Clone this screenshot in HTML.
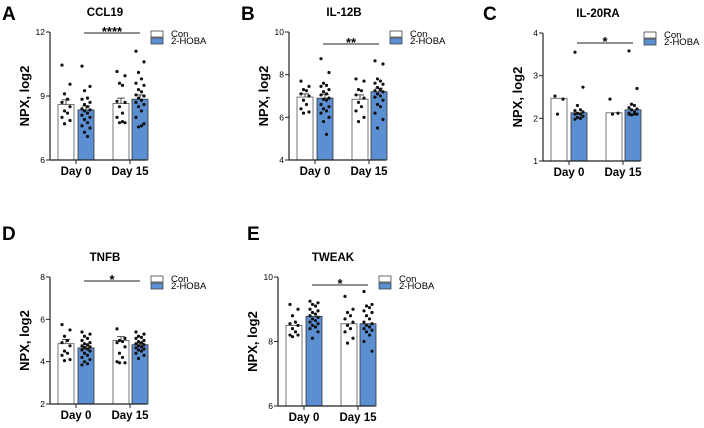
<!DOCTYPE html>
<html><head><meta charset="utf-8">
<style>
html,body{margin:0;padding:0;background:#fff;}
svg{display:block;font-family:"Liberation Sans",sans-serif;}
</style></head>
<body>
<svg id="fig" width="704" height="428" viewBox="0 0 704 428" xmlns="http://www.w3.org/2000/svg"></svg>
<script>
// ---- data ----
const categories = ["Day 0", "Day 15"];
const groups = ["Con", "2-HOBA"];
const titles = ["CCL19", "IL-12B", "IL-20RA", "TNFB", "TWEAK"];
const letters = ["A", "B", "C", "D", "E"];
const sigLabels = ["****", "**", "*", "*", "*"];
const yMinVals = [6, 4, 1, 2, 6];
const yMaxVals = [12, 10, 4, 8, 10];
const tickA = [6, 9, 12];
const tickB = [4, 6, 8, 10];
const tickC = [1, 2, 3, 4];
const tickD = [2, 4, 6, 8];
const tickE = [6, 8, 10];
// means: [Con d0, HOBA d0, Con d15, HOBA d15]
const meanA = [8.6, 8.35, 8.65, 8.85];
const meanB = [6.95, 6.9, 6.85, 7.2];
const meanC = [2.47, 2.13, 2.13, 2.2];
const meanD = [4.85, 4.65, 5.0, 4.8];
const meanE = [8.5, 8.78, 8.55, 8.55];
const semA = [0.22, 0.18, 0.25, 0.2];
const semB = [0.15, 0.18, 0.2, 0.17];
const semC = [0, 0, 0, 0];
const semD = [0.2, 0.08, 0.18, 0.07];
const semE = [0, 0, 0, 0];
const ptsA = [
 [10.45,9.55,9.1,8.85,8.7,8.5,8.3,8.2,8.0,7.85,7.7],
 [10.4,9.45,9.25,8.9,8.85,8.7,8.6,8.5,8.4,8.35,8.3,8.2,8.1,8.0,7.9,7.75,7.6,7.5,7.3,7.1],
 [10.15,9.95,9.6,9.5,8.75,8.7,8.5,8.2,8.0,7.75,7.75,7.8],
 [11.1,10.6,10.1,9.8,9.6,9.5,9.3,9.2,9.05,9.0,8.9,8.8,8.7,8.6,8.5,8.3,8.0,7.7,7.55,7.6]];
const ptsB = [
 [7.7,7.45,7.3,7.25,7.1,7.0,6.8,6.6,6.4,6.25,6.2],
 [8.75,8.1,7.6,7.5,7.45,7.3,7.2,7.1,7.05,6.9,6.85,6.8,6.6,6.5,6.4,6.3,6.2,6.0,5.8,5.2],
 [7.8,7.7,7.3,7.25,7.05,6.9,6.7,6.5,6.3,6.0,5.8],
 [8.65,8.5,7.8,7.7,7.6,7.55,7.4,7.3,7.25,7.2,7.1,7.0,6.95,6.8,6.6,6.5,6.2,5.9,5.5]];
const ptsC = [
 [2.52,2.45,2.1],
 [3.55,2.73,2.3,2.2,2.18,2.15,2.12,2.1,2.1,2.05,2.02,2.0,1.98],
 [2.45,2.12,2.1],
 [3.58,2.7,2.33,2.3,2.25,2.22,2.2,2.15,2.1,2.1,2.08,2.1,2.12]];
const ptsD = [
 [5.75,5.5,5.2,5.0,4.9,4.75,4.5,4.4,4.3,4.1,4.05],
 [5.4,5.3,5.2,5.1,5.0,4.9,4.85,4.8,4.75,4.7,4.65,4.6,4.55,4.5,4.4,4.3,4.2,4.1,4.0,3.9,3.85],
 [5.55,5.1,5.0,4.95,4.9,4.7,4.4,4.2,4.0,3.95,3.95],
 [5.4,5.3,5.2,5.15,5.1,5.0,4.95,4.9,4.85,4.8,4.75,4.7,4.65,4.6,4.55,4.5,4.4,4.3,4.15]];
const ptsE = [
 [9.15,9.0,8.8,8.6,8.55,8.5,8.4,8.3,8.2,8.2,8.15],
 [9.25,9.2,9.15,9.1,9.0,8.95,8.9,8.85,8.8,8.75,8.7,8.65,8.6,8.55,8.5,8.45,8.4,8.3,8.1],
 [9.4,9.0,8.9,8.8,8.7,8.6,8.5,8.4,8.3,8.1,7.95],
 [9.55,9.15,9.1,9.05,8.95,8.9,8.8,8.7,8.6,8.55,8.5,8.45,8.4,8.35,8.3,8.2,8.0,7.7]];

const ticksAll = [tickA, tickB, tickC, tickD, tickE];
const meansAll = [meanA, meanB, meanC, meanD, meanE];
const semAll = [semA, semB, semC, semD, semE];
const ptsAll = [ptsA, ptsB, ptsC, ptsD, ptsE];

// ---- layout (not data) ----
const layout = [
 {ax:50, top:32, bot:160, letX:2, letY:20, sigY:33},
 {ax:289, top:32, bot:160, letX:241, letY:20, sigY:44},
 {ax:543, top:33, bot:161, letX:483, letY:20, sigY:43},
 {ax:50, top:277, bot:404, letX:2, letY:240, sigY:281},
 {ax:278, top:277, bot:406, letX:247, letY:240, sigY:285}
];
const NS = "http://www.w3.org/2000/svg";
const svg = document.getElementById("fig");
function mk(tag, attrs, parent){
  const e = document.createElementNS(NS, tag);
  for (const k in attrs) e.setAttribute(k, attrs[k]);
  (parent||svg).appendChild(e);
  return e;
}
const BLUE = "#5b8fd2";
const barOff = [8, 28, 63, 82];
const BW = 16;

for (let p = 0; p < 5; p++) {
  const L = layout[p];
  const g = mk("g", {});
  
  
  const ymin = yMinVals[p], ymax = yMaxVals[p];
  const y = v => L.bot - (v - ymin) / (ymax - ymin) * (L.bot - L.top);
  const ax = L.ax;

  const let_ = mk("text", {x:L.letX, y:L.letY, "font-size":19, "font-weight":"bold"}, g);
  let_.textContent = letters[p];
  
  

  const t = mk("text", {x:ax+55, y:L.top-16, "font-size":11.5, "font-weight":"bold", "text-anchor":"middle"}, g);
  t.textContent = titles[p];
  
  

  const yl = mk("text", {x:0, y:0, "font-size":13, "font-weight":"bold", "text-anchor":"middle",
    transform:`translate(${ax-21},${(L.top+L.bot)/2}) rotate(-90)`}, g);
  yl.textContent = "NPX, log2";
  
  

  // bars
  for (let i = 0; i < 4; i++) {
    const x0 = ax + barOff[i];
    const m = meansAll[p][i];
    const r = mk("rect", {x:x0, y:y(m), width:BW, height:L.bot - y(m),
      fill: i%2 ? BLUE : "#fff", stroke: i%2 ? "#333" : "#555", "stroke-width":0.8}, g);
    
    
    const s = semAll[p][i];
    if (s > 0) {
      const cx = x0 + BW/2;
      mk("line", {x1:cx, x2:cx, y1:y(m), y2:y(m+s), stroke:"#222", "stroke-width":0.8}, g);
      mk("line", {x1:cx-4, x2:cx+4, y1:y(m+s), y2:y(m+s), stroke:"#222", "stroke-width":0.8}, g);
    }
    const pts = ptsAll[p][i];
    pts.forEach((v, k) => {
      const col = (k % 4);
      const dx = [-4, 4, -1.5, 1.5][col];
      const c = mk("circle", {cx:x0 + BW/2 + dx, cy:y(v), r:1.6, fill:"#111"}, g);
      
      
    });
  }

  // axes
  const yaxis = mk("line", {x1:ax, x2:ax, y1:L.top, y2:L.bot, stroke:"#222", "stroke-width":1.2}, g);
  
  
  const xaxis = mk("line", {x1:ax, x2:ax+97, y1:L.bot, y2:L.bot, stroke:"#222", "stroke-width":1.2}, g);
  
  
  ticksAll[p].forEach(tv => {
    mk("line", {x1:ax-4, x2:ax, y1:y(tv), y2:y(tv), stroke:"#222", "stroke-width":1}, g);
    const tl = mk("text", {x:ax-5, y:y(tv)+3, "font-size":8.5, "text-anchor":"end"}, g);
    tl.textContent = tv;
    
    
  });
  categories.forEach((c, j) => {
    const cx = ax + 26 + j*54;
    mk("line", {x1:cx, x2:cx, y1:L.bot, y2:L.bot+4, stroke:"#222", "stroke-width":1}, g);
    const cl = mk("text", {x:cx, y:L.bot+15, "font-size":11.5, "font-weight":"bold", "text-anchor":"middle"}, g);
    cl.textContent = c;
    
    
  });

  // significance
  const sl = mk("line", {x1:ax+34, x2:ax+90, y1:L.sigY, y2:L.sigY, stroke:"#222", "stroke-width":1}, g);
  
  
  const st = mk("text", {x:ax+62, y:L.sigY+3, "font-size":13, "font-weight":"bold", "text-anchor":"middle"}, g);
  st.textContent = sigLabels[p];
  
  

  // legend
  const lx = ax + 101, ly = L.top - 1;
  groups.forEach((gn, j) => {
    const lb = mk("rect", {x:lx, y:ly + j*7, width:12, height:6, fill: j ? BLUE : "#fff", stroke:"#444", "stroke-width":0.8}, g);
    
    
    const lt = mk("text", {x:lx+20, y:ly + j*7 + 6, "font-size":9.5}, g);
    lt.textContent = gn;
    
    
  });
}
</script>
</body></html>
